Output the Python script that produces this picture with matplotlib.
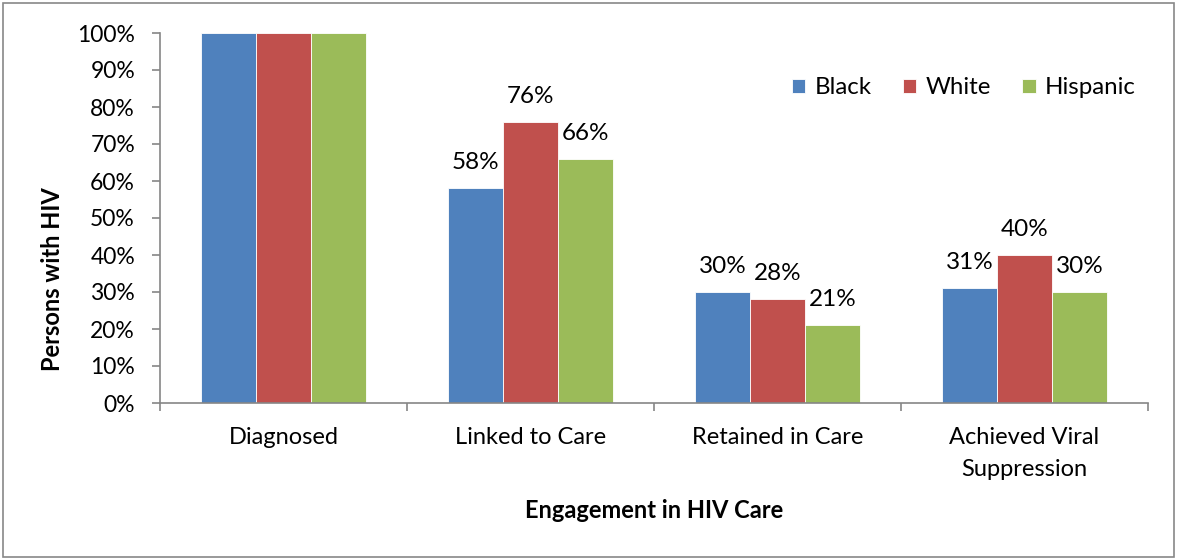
import matplotlib
matplotlib.use("Agg")
import matplotlib.pyplot as plt
import numpy as np
from matplotlib.patches import Rectangle
from matplotlib.ticker import FuncFormatter, MultipleLocator

categories = ["Diagnosed", "Linked to Care", "Retained in Care", "Achieved Viral\nSuppression"]
series_names = ["Black", "White", "Hispanic"]
black = [100, 58, 30, 31]
white = [100, 76, 28, 40]
hispanic = [100, 66, 21, 30]
show_labels = [False, True, True, True]
colors = ["#4F81BD", "#C0504D", "#9BBB59"]

plt.rcParams['font.family'] = ['Lato', 'DejaVu Sans']

W, H = 1177, 559
fig = plt.figure(figsize=(W / 100, H / 100), dpi=100)
ax = fig.add_axes([160 / W, 1 - 403 / H, (1148 - 160) / W, (403 - 33) / H])

x = np.arange(len(categories))
bw = 0.222
for i, (name, vals, c) in enumerate(zip(series_names, [black, white, hispanic], colors)):
    pos = x + (i - 1) * bw
    bars = ax.bar(pos, vals, width=bw, color=c, edgecolor='white', linewidth=0.6, label=name, zorder=2)
    for xi, v, show in zip(pos, vals, show_labels):
        if show:
            ax.annotate(f"{v}%", (xi, v), xytext=(0, 19), textcoords='offset pixels',
                        ha='center', va='baseline', fontsize=17.5, color='black')

ax.set_xlim(-0.5, len(categories) - 0.5)
ax.set_ylim(0, 100)
ax.yaxis.set_major_locator(MultipleLocator(10))
ax.yaxis.set_major_formatter(FuncFormatter(lambda v, p: f"{int(v)}%"))
ax.set_xticks(x)
ax.set_xticklabels(categories, fontsize=17, linespacing=1.65)
ax.set_xticks(np.arange(len(categories) + 1) - 0.5, minor=True)
ax.tick_params(axis='x', which='major', length=0, pad=17)
ax.tick_params(axis='x', which='minor', length=6, color='#868686', width=1.2)
ax.tick_params(axis='y', length=6, color='#868686', width=1.2, labelsize=16.5, pad=12)

for s in ['top', 'right']:
    ax.spines[s].set_visible(False)
for s in ['left', 'bottom']:
    ax.spines[s].set_color('#868686')
    ax.spines[s].set_linewidth(1.2)

ax.set_ylabel("Persons with HIV", fontsize=17, fontweight='bold')
ax.yaxis.set_label_coords(53 / W, 0.5, transform=fig.transFigure)
ax.yaxis.label.set_va('center')
fig.text(654 / W, 1 - 510 / H, "Engagement in HIV Care", fontsize=17, fontweight='bold',
         ha='center', va='center')

leg = fig.legend(loc='center', bbox_to_anchor=(964 / W, 1 - 88 / H), ncol=3, frameon=False,
                 fontsize=17.3, handlelength=0.55, handleheight=0.55, handletextpad=0.4,
                 columnspacing=1.3)

fig.patches.append(Rectangle((3 / W, 2 / H), 1 - 6 / W, 1 - 5 / H, transform=fig.transFigure,
                             fill=False, edgecolor='#888888', linewidth=1.2))

fig.savefig("out.png", dpi=100)
